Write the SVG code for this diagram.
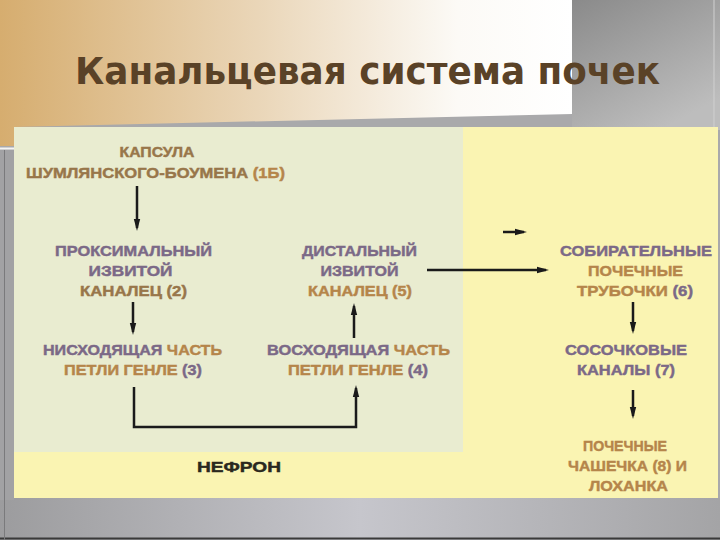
<svg xmlns="http://www.w3.org/2000/svg" width="720" height="540" viewBox="0 0 720 540">
  <defs>
    <linearGradient id="topGrad" x1="0" y1="0" x2="1" y2="0">
      <stop offset="0" stop-color="#d6ad6f"/>
      <stop offset="0.45" stop-color="#ead6b8"/>
      <stop offset="0.8" stop-color="#fcfaf6"/>
      <stop offset="1" stop-color="#ffffff"/>
    </linearGradient>
    <linearGradient id="grayRight" x1="0" y1="0" x2="0.6" y2="1">
      <stop offset="0" stop-color="#8a8a8a"/>
      <stop offset="1" stop-color="#bdbdbd"/>
    </linearGradient>
    <linearGradient id="grayBottom" x1="0" y1="0" x2="1" y2="0">
      <stop offset="0" stop-color="#9c9c9e"/>
      <stop offset="0.5" stop-color="#c6c6cc"/>
      <stop offset="1" stop-color="#a4a4a6"/>
    </linearGradient>
    <marker id="ah" viewBox="0 0 12 8" refX="9" refY="4" markerWidth="12" markerHeight="8" markerUnits="userSpaceOnUse" orient="auto">
      <path d="M0,0.8 L12,4 L0,7.2 z" fill="#1a1a1a"/>
    </marker>
    <style>
      .t { font-family: "Liberation Sans", Arial, sans-serif; font-weight: bold; font-size: 15.5px; text-anchor: middle; stroke-width: 0.45px; }
      .p { fill: #7b6987; stroke: #7b6987; }
      .o { fill: #b5854a; stroke: #b5854a; }
      .b { fill: #98764a; stroke: #98764a; }
      .k { fill: #2a281e; stroke: #2a281e; }
      .c { fill: none; stroke: #1a1a1a; stroke-width: 2.5; }
    </style>
  </defs>

  <!-- background frame -->
  <rect x="0" y="0" width="720" height="540" fill="#a9a9ab"/>
  <rect x="572" y="0" width="148" height="130" fill="url(#grayRight)"/>
  <line x1="714" y1="0" x2="714" y2="128" stroke="#d0d0d0" stroke-width="1"/>
  <rect x="0" y="498" width="720" height="42" fill="url(#grayBottom)"/>
  <line x1="0" y1="538.5" x2="720" y2="538.5" stroke="#3a3a3a" stroke-width="2"/>
  <rect x="0" y="150" width="14" height="350" fill="#a2a2a4"/>
  <line x1="4.5" y1="150" x2="4.5" y2="540" stroke="#7a7a7c" stroke-width="1"/>

  <!-- top title panel -->
  <polygon points="0,0 572,0 572,114 14,127 14,146 0,146" fill="url(#topGrad)"/>
  <line x1="0" y1="148.5" x2="14" y2="148.5" stroke="#f4f4f4" stroke-width="2"/>
  <text x="75" y="84" textLength="585" lengthAdjust="spacingAndGlyphs" font-family="'DejaVu Sans', Verdana, sans-serif" font-weight="bold" font-size="38" fill="#5a4227">Канальцевая система почек</text>

  <!-- diagram panel -->
  <rect x="14" y="127" width="704" height="371" fill="#faf4b2"/>
  <rect x="14" y="127" width="449" height="325" fill="#e9ecd0"/>

  <g id="connectors">
    <line class="c" x1="137" y1="186" x2="137" y2="228" marker-end="url(#ah)"/>
    <line class="c" x1="133" y1="302" x2="133" y2="332" marker-end="url(#ah)"/>
    <polyline class="c" points="134,387 134,427 356,427 356,388" marker-end="url(#ah)"/>
    <line class="c" x1="354" y1="338" x2="354" y2="306" marker-end="url(#ah)"/>
    <line class="c" x1="427" y1="270" x2="546" y2="270" marker-end="url(#ah)"/>
    <line class="c" x1="503" y1="232" x2="524" y2="232" marker-end="url(#ah)"/>
    <line class="c" x1="633" y1="302" x2="633" y2="331" marker-end="url(#ah)"/>
    <line class="c" x1="633" y1="390" x2="633" y2="416" marker-end="url(#ah)"/>
  </g>

  <g id="n1">
    <text class="t b" x="157" y="157" textLength="75" lengthAdjust="spacingAndGlyphs">КАПСУЛА</text>
    <text class="t b" x="155.5" y="178" textLength="259" lengthAdjust="spacingAndGlyphs">ШУМЛЯНСКОГО-БОУМЕНА <tspan class="o">(1Б)</tspan></text>
  </g>
  <g id="n2">
    <text class="t p" x="133.5" y="256" textLength="157" lengthAdjust="spacingAndGlyphs">ПРОКСИМАЛЬНЫЙ</text>
    <text class="t p" x="130.5" y="276" textLength="84" lengthAdjust="spacingAndGlyphs">ИЗВИТОЙ</text>
    <text class="t b" x="133.5" y="296" textLength="107" lengthAdjust="spacingAndGlyphs">КАНАЛЕЦ (2)</text>
  </g>
  <g id="n3">
    <text class="t" x="132.5" y="355" textLength="179" lengthAdjust="spacingAndGlyphs"><tspan class="p">НИСХОДЯЩАЯ</tspan> <tspan class="o">ЧАСТЬ</tspan></text>
    <text class="t" x="133" y="375" textLength="138" lengthAdjust="spacingAndGlyphs"><tspan class="o">ПЕТЛИ ГЕНЛЕ</tspan> <tspan class="p">(3)</tspan></text>
  </g>
  <g id="n4">
    <text class="t" x="358.5" y="355" textLength="183" lengthAdjust="spacingAndGlyphs"><tspan class="p">ВОСХОДЯЩАЯ</tspan> <tspan class="o">ЧАСТЬ</tspan></text>
    <text class="t" x="358" y="375" textLength="140" lengthAdjust="spacingAndGlyphs"><tspan class="o">ПЕТЛИ ГЕНЛЕ</tspan> <tspan class="p">(4)</tspan></text>
  </g>
  <g id="n5">
    <text class="t p" x="359.5" y="256" textLength="115" lengthAdjust="spacingAndGlyphs">ДИСТАЛЬНЫЙ</text>
    <text class="t p" x="359.5" y="276" textLength="78" lengthAdjust="spacingAndGlyphs">ИЗВИТОЙ</text>
    <text class="t o" x="360" y="296" textLength="104" lengthAdjust="spacingAndGlyphs">КАНАЛЕЦ (5)</text>
  </g>
  <g id="n6">
    <text class="t p" x="636" y="256" textLength="152" lengthAdjust="spacingAndGlyphs">СОБИРАТЕЛЬНЫЕ</text>
    <text class="t o" x="635.5" y="276" textLength="95" lengthAdjust="spacingAndGlyphs">ПОЧЕЧНЫЕ</text>
    <text class="t" x="635" y="296" textLength="116" lengthAdjust="spacingAndGlyphs"><tspan class="o">ТРУБОЧКИ</tspan> <tspan class="p">(6)</tspan></text>
  </g>
  <g id="n7">
    <text class="t p" x="626" y="355" textLength="122" lengthAdjust="spacingAndGlyphs">СОСОЧКОВЫЕ</text>
    <text class="t p" x="626" y="375" textLength="98" lengthAdjust="spacingAndGlyphs">КАНАЛЫ (7)</text>
  </g>
  <g id="n8">
    <text class="t o" x="625" y="451" textLength="84" lengthAdjust="spacingAndGlyphs">ПОЧЕЧНЫЕ</text>
    <text class="t o" x="627.5" y="471" textLength="119" lengthAdjust="spacingAndGlyphs">ЧАШЕЧКА (8) И</text>
    <text class="t o" x="628.5" y="491" textLength="79" lengthAdjust="spacingAndGlyphs">ЛОХАНКА</text>
  </g>
  <g id="nephron">
    <text class="t k" x="239" y="472" textLength="84" lengthAdjust="spacingAndGlyphs">НЕФРОН</text>
  </g>
</svg>
